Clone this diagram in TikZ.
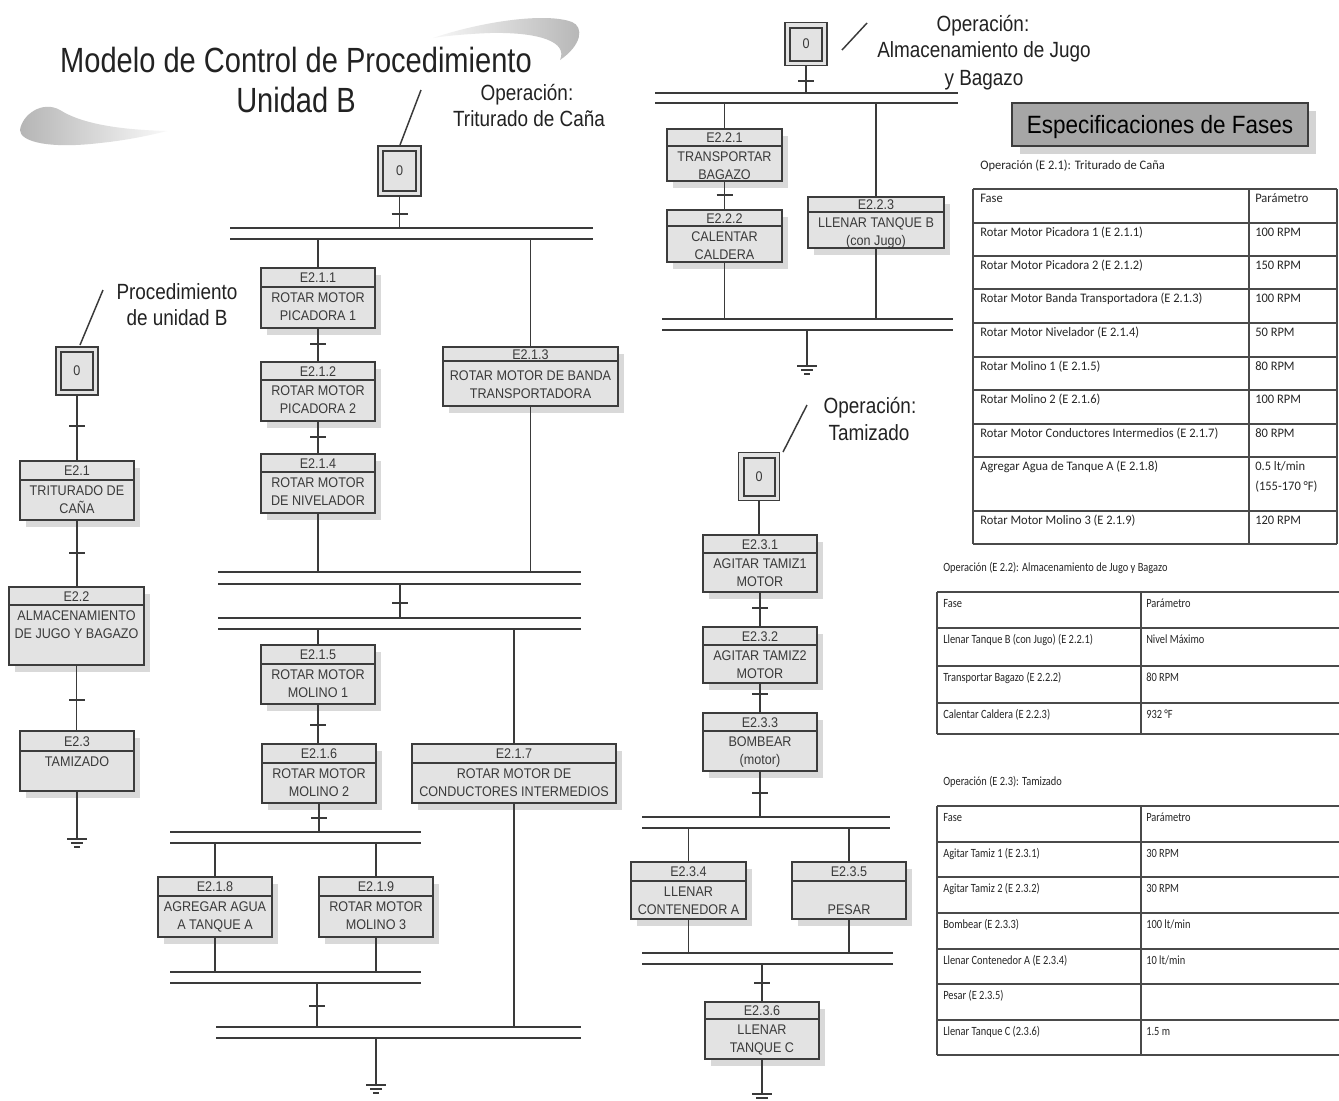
\documentclass[tikz,border=0pt]{standalone}
\usepackage{fontspec}
\setmainfont{Liberation Sans}
\newfontfamily\titlefont{Liberation Sans}[FakeStretch=0.83]
\newfontfamily\labfont{Liberation Sans}[FakeStretch=0.86]
\newfontfamily\boxfont{Liberation Sans}[FakeStretch=0.9]
\newfontfamily\tabfont{Carlito}[FakeStretch=0.96]
\newfontfamily\tabfontn{Carlito}[FakeStretch=0.83]

\definecolor{framec}{HTML}{3C3C3C}
\definecolor{boxfill}{HTML}{E3E3E3}
\definecolor{shadowc}{HTML}{D9D9D9}
\definecolor{ink}{HTML}{3A3A3A}
\definecolor{wire}{HTML}{3A3A3A}
\definecolor{labink}{HTML}{222222}
\definecolor{tabc}{HTML}{4A4A4A}
\definecolor{tabink}{HTML}{262626}
\definecolor{specfill}{HTML}{A6A6A6}
\definecolor{specshadow}{HTML}{D4D4D4}

\tikzset{
  stepframe/.style={draw=framec, line width=1.2pt, fill=boxfill, inner sep=0pt, outer sep=0pt},
  frameline/.style={draw=framec, line width=1.2pt},
  boxshadow/.style={fill=shadowc},
  steptext/.style={anchor=base, inner sep=0pt, text=ink, font=\boxfont\fontsize{10.5}{12}\selectfont},
  conn/.style={draw=wire, line width=1.1pt},
  barline/.style={draw=wire, line width=1.5pt},
  tickline/.style={draw=wire, line width=1.2pt},
  gndline/.style={draw=wire, line width=1.1pt},
  initouter/.style={draw=framec, line width=1pt, fill=boxfill, inner sep=0pt, outer sep=0pt},
  initinner/.style={draw=framec, line width=1.5pt, fill=boxfill, inner sep=0pt, outer sep=0pt, text=ink, font=\boxfont\fontsize{10.5}{12}\selectfont},
  lab/.style={anchor=base, inner sep=0pt, text=labink, font=\labfont\fontsize{16.5}{19}\selectfont},
  tabline/.style={draw=tabc, line width=0.85pt},
  tabtxt/.style={anchor=base west, inner sep=0pt, text=tabink, font=\tabfont\fontsize{9.75}{12}\selectfont},
  tabtxtn/.style={anchor=base west, inner sep=0pt, text=tabink, font=\tabfontn\fontsize{9.4}{12}\selectfont},
}

% vertical offset of the two body lines of a step box
\newcommand\bshift{0}

% step box: name, left, top, right, bottom, header line y, id, line 1, line 2
\newcommand\stepbox[9]{%
  \fill[boxshadow] ({#2+6},{#3+7}) rectangle ({#4+6},{#5+7});
  \node[stepframe, minimum width={(#4-#2)*0.75pt}, minimum height={(#5-#3)*0.75pt}]
    (#1) at ({(#2+#4)/2},{(#3+#5)/2}) {};
  \coordinate (#1-h) at (#2,#6);
  \draw[frameline] (#1-h) -- (#1-h -| #1.east);
  \node[steptext] (#1-id) at ({(#2+#4)/2},{(#3+#6)/2+5}) {#7};
  \node[steptext] (#1-a) at ({(#2+#4)/2},{#6+15+\bshift}) {#8};
  \node[steptext] (#1-b) at ({(#2+#4)/2},{#6+33+\bshift}) {#9};
}

% initial step: name, centre x, centre y, width, height
\newcommand\initstep[5]{%
  \node[initouter, minimum width={#4*0.75pt}, minimum height={#5*0.75pt}] (#1) at (#2,#3) {};
  \node[initinner, minimum width={(#4-10)*0.75pt}, minimum height={(#5-10)*0.75pt}] (#1-in) at (#2,#3) {0};
}

% double bar: name, x from, x to, upper y, lower y
\newcommand\dbar[5]{%
  \coordinate (#1-ul) at (#2,#4); \coordinate (#1-ur) at (#3,#4);
  \coordinate (#1-ll) at (#2,#5); \coordinate (#1-lr) at (#3,#5);
  \draw[barline] (#1-ul) -- (#1-ur);
  \draw[barline] (#1-ll) -- (#1-lr);
}

% transition mark
\newcommand\tmark[2]{\draw[tickline] ({#1-8},#2) -- ({#1+8},#2);}

% end symbol
\newcommand\gnd[2]{%
  \draw[gndline] ({#1-10},#2) -- ({#1+10},#2)
                 ({#1-6},{#2+4}) -- ({#1+6},{#2+4})
                 ({#1-3},{#2+8}) -- ({#1+3},{#2+8});
}

\begin{document}
\begin{tikzpicture}[x=0.75pt,y=-0.75pt]
\useasboundingbox (0,0) rectangle (1339,1100);
\fill[white] (0,0) rectangle (1339,1100);

% ---- decorative swooshes around the title
\shade[left color=gray!6, right color=gray!58]
  (433,38) .. controls (480,22) and (545,12) .. (572,22)
  .. controls (584,27) and (582,45) .. (560,60)
  .. controls (568,42) and (540,32) .. (490,33)
  .. controls (465,34) and (445,36) .. (433,38) -- cycle;
\shade[left color=gray!58, right color=gray!5]
  (167,131) .. controls (130,130) and (85,126) .. (60,110)
  .. controls (42,100) and (22,115) .. (20,130)
  .. controls (20,142) and (50,149) .. (100,143)
  .. controls (130,140) and (155,134) .. (167,131) -- cycle;

% ---- title
\node[anchor=base, inner sep=0pt, text=labink, font=\titlefont\fontsize{26.25}{30}\selectfont]
  (title1) at (296,72) {Modelo de Control de Procedimiento};
\node[anchor=base, inner sep=0pt, text=labink, font=\titlefont\fontsize{26.25}{30}\selectfont]
  (title2) at (296,112) {Unidad B};

% ---- labels
\node[lab] (opM1) at (527,100) {Operación:};
\node[lab] (opM2) at (529,126) {Triturado de Caña};
\node[lab] (procL1) at (177,299) {Procedimiento};
\node[lab] (procL2) at (177,325) {de unidad B};
\node[lab] (opR1) at (983,31) {Operación:};
\node[lab] (opR2) at (984,57) {Almacenamiento de Jugo};
\node[lab] (opR3) at (984,85) {y Bagazo};
\node[lab] (opT1) at (870,413) {Operación:};
\node[lab] (opT2) at (869,440) {Tamizado};

\coordinate (slL1) at (80,345);  \coordinate (slL2) at (103,290);
\coordinate (slM1) at (400,145); \coordinate (slM2) at (421,90);
\coordinate (slR1) at (842,50);  \coordinate (slR2) at (867,23);
\coordinate (slT1) at (783,452); \coordinate (slT2) at (807,405);
\draw[conn] (slL1) -- (slL2);
\draw[conn] (slM1) -- (slM2);
\draw[conn] (slR1) -- (slR2);
\draw[conn] (slT1) -- (slT2);

% ---- initial steps
\initstep{i0L}{77}{371}{42}{48}
\initstep{i0M}{399.5}{171}{43}{50}
\initstep{i0R}{806}{44}{42}{43}
\initstep{i0T}{759}{476.5}{41}{48}

% ---- bars
\dbar{A}{230}{593}{228}{239}
\dbar{B}{218}{581}{572}{584}
\dbar{C}{218}{581}{618}{629}
\dbar{D}{170}{421}{832}{843}
\dbar{F}{170}{421}{972}{983}
\dbar{E}{216}{581}{1027}{1038}
\dbar{G}{655}{958}{93}{103}
\dbar{H}{662}{953}{319}{330}
\dbar{I}{642}{890}{817}{828}
\dbar{J}{642}{893}{953}{964}

% ---- unit procedure
\stepbox{s21}{20}{461}{134}{520}{480}{E2.1}{TRITURADO DE}{CAÑA}
\stepbox{s22}{9}{587}{144}{665}{605}{E2.2}{ALMACENAMIENTO}{DE JUGO Y BAGAZO}
\stepbox{s23}{20}{731}{134}{791}{751}{E2.3}{TAMIZADO}{}

% ---- operation E2.1
\stepbox{s211}{261}{268}{375}{328}{287}{E2.1.1}{ROTAR MOTOR}{PICADORA 1}
\stepbox{s212}{261}{362}{375}{421}{380}{E2.1.2}{ROTAR MOTOR}{PICADORA 2}
\stepbox{s214}{261}{454}{375}{513}{472}{E2.1.4}{ROTAR MOTOR}{DE NIVELADOR}
\renewcommand\bshift{4}
\stepbox{s213}{443}{347}{618}{406}{361}{E2.1.3}{ROTAR MOTOR DE BANDA}{TRANSPORTADORA}
\renewcommand\bshift{0}
\stepbox{s215}{261}{645}{375}{704}{664}{E2.1.5}{ROTAR MOTOR}{MOLINO 1}
\stepbox{s216}{262}{744}{376}{803}{763}{E2.1.6}{ROTAR MOTOR}{MOLINO 2}
\stepbox{s217}{412}{744}{616}{803}{763}{E2.1.7}{ROTAR MOTOR DE}{CONDUCTORES INTERMEDIOS}
\stepbox{s218}{158}{877}{272}{937}{896}{E2.1.8}{AGREGAR AGUA}{A TANQUE A}
\stepbox{s219}{319}{877}{433}{937}{896}{E2.1.9}{ROTAR MOTOR}{MOLINO 3}

% ---- operation E2.2
\stepbox{s221}{667}{129}{782}{181}{146}{E2.2.1}{TRANSPORTAR}{BAGAZO}
\stepbox{s222}{667}{210}{782}{262}{226}{E2.2.2}{CALENTAR}{CALDERA}
\stepbox{s223}{808}{197}{944}{248}{212}{E2.2.3}{LLENAR TANQUE B}{(con Jugo)}

% ---- operation E2.3
\stepbox{s231}{703}{535}{817}{592}{553}{E2.3.1}{AGITAR TAMIZ1}{MOTOR}
\stepbox{s232}{703}{627}{817}{683}{645}{E2.3.2}{AGITAR TAMIZ2}{MOTOR}
\stepbox{s233}{703}{713}{817}{771}{731}{E2.3.3}{BOMBEAR}{(motor)}
\stepbox{s234}{631}{862}{746}{919}{881}{E2.3.4}{LLENAR}{CONTENEDOR A}
\stepbox{s235}{792}{862}{906}{919}{881}{E2.3.5}{}{PESAR}
\stepbox{s236}{705}{1002}{819}{1059}{1019}{E2.3.6}{LLENAR}{TANQUE C}

% ---- connectors: unit procedure
\draw[conn] (i0L.south) -- (s21.north);
\draw[conn] (s21.south) -- (s21.south |- s22.north);
\draw[conn] (s22.south) -- (s22.south |- s23.north);
\coordinate (gL) at (77,839);
\draw[conn] (s23.south) -- (gL);
\tmark{77}{426} \tmark{77}{553} \tmark{77}{700}
\gnd{77}{839}

% ---- connectors: operation E2.1
\draw[conn] (i0M.south) -- (i0M.south |- A-ul);
\tmark{399.5}{214}
\draw[conn] (A-ll -| s211.north) -- (s211.north);
\draw[conn] (A-ll -| s213.north) -- (s213.north);
\draw[conn] (s211.south) -- (s212.north);
\tmark{318}{344}
\draw[conn] (s212.south) -- (s214.north);
\tmark{318}{437}
\draw[conn] (s214.south) -- (s214.south |- B-ul);
\draw[conn] (s213.south) -- (s213.south |- B-ul);
\coordinate (BC) at (400,584);
\draw[conn] (BC) -- (BC |- C-ul);
\tmark{400}{603}
\draw[conn] (C-ll -| s215.north) -- (s215.north);
\draw[conn] (C-ll -| s217.north) -- (s217.north);
\draw[conn] (s215.south) -- (s215.south |- s216.north);
\tmark{318}{725}
\draw[conn] (s216.south) -- (s216.south |- D-ul);
\tmark{319}{818}
\draw[conn] (D-ll -| s218.north) -- (s218.north);
\draw[conn] (D-ll -| s219.north) -- (s219.north);
\draw[conn] (s218.south) -- (s218.south |- F-ul);
\draw[conn] (s219.south) -- (s219.south |- F-ul);
\coordinate (FE) at (317,983);
\draw[conn] (FE) -- (FE |- E-ul);
\tmark{317}{1006}
\draw[conn] (s217.south) -- (s217.south |- E-ul);
\coordinate (gM) at (376,1085);
\draw[conn] (E-ll -| gM) -- (gM);
\gnd{376}{1085}

% ---- connectors: operation E2.2
\draw[conn] (i0R.south) -- (i0R.south |- G-ul);
\tmark{806}{81}
\draw[conn] (G-ll -| s221.north) -- (s221.north);
\draw[conn] (s221.south) -- (s222.north);
\tmark{724.5}{195}
\draw[conn] (G-ll -| s223.north) -- (s223.north);
\draw[conn] (s222.south) -- (s222.south |- H-ul);
\draw[conn] (s223.south) -- (s223.south |- H-ul);
\coordinate (gR) at (807,366);
\draw[conn] (H-ll -| gR) -- (gR);
\gnd{807}{366}

% ---- connectors: operation E2.3
\draw[conn] (i0T.south) -- (i0T.south |- s231.north);
\draw[conn] (s231.south) -- (s232.north);
\tmark{760}{608}
\draw[conn] (s232.south) -- (s233.north);
\tmark{760}{694}
\draw[conn] (s233.south) -- (s233.south |- I-ul);
\tmark{760}{793}
\draw[conn] (I-ll -| s234.north) -- (s234.north);
\draw[conn] (I-ll -| s235.north) -- (s235.north);
\draw[conn] (s234.south) -- (s234.south |- J-ul);
\draw[conn] (s235.south) -- (s235.south |- J-ul);
\draw[conn] (J-ll -| s236.north) -- (s236.north);
\tmark{762}{983}
\coordinate (gT) at (762,1094);
\draw[conn] (s236.south) -- (gT);
\gnd{762}{1094}

% ---- phase specifications
\fill[specshadow] (1020,111) rectangle (1316,154);
\node[draw=framec, line width=1.3pt, fill=specfill, inner sep=0pt,
      minimum width={296*0.75pt}, minimum height={43*0.75pt}] (spec) at (1160,124.5) {};
\node[anchor=base, inner sep=0pt, text=black, font=\boxfont\fontsize{18.75}{22}\selectfont]
  (spectxt) at (1160,133.5) {Especificaciones de Fases};

% table E2.1
\node[tabtxt] (cap1) at (980,169) {Operación (E 2.1): Triturado de Caña};
\foreach \yy in {189,223,256,289,323,357,390,424,457,511,544}
  \draw[tabline] (973,\yy) -- (1337,\yy);
\draw[tabline] (973,189) -- (973,544) (1249,189) -- (1249,544) (1337,189) -- (1337,544);
\node[tabtxt] (t1a0) at (980,202) {Fase};
\node[tabtxt] (t1b0) at (1255,202) {Parámetro};
\node[tabtxt] (t1a1) at (980,236) {Rotar Motor Picadora 1 (E 2.1.1)};
\node[tabtxt] (t1b1) at (1255,236) {100 RPM};
\node[tabtxt] (t1a2) at (980,269) {Rotar Motor Picadora 2 (E 2.1.2)};
\node[tabtxt] (t1b2) at (1255,269) {150 RPM};
\node[tabtxt] (t1a3) at (980,302) {Rotar Motor Banda Transportadora (E 2.1.3)};
\node[tabtxt] (t1b3) at (1255,302) {100 RPM};
\node[tabtxt] (t1a4) at (980,336) {Rotar Motor Nivelador (E 2.1.4)};
\node[tabtxt] (t1b4) at (1255,336) {50 RPM};
\node[tabtxt] (t1a5) at (980,370) {Rotar Molino 1 (E 2.1.5)};
\node[tabtxt] (t1b5) at (1255,370) {80 RPM};
\node[tabtxt] (t1a6) at (980,403) {Rotar Molino 2 (E 2.1.6)};
\node[tabtxt] (t1b6) at (1255,403) {100 RPM};
\node[tabtxt] (t1a7) at (980,437) {Rotar Motor Conductores Intermedios (E 2.1.7)};
\node[tabtxt] (t1b7) at (1255,437) {80 RPM};
\node[tabtxt] (t1a8) at (980,470) {Agregar Agua de Tanque A (E 2.1.8)};
\node[tabtxt] (t1b8) at (1255,470) {0.5 lt/min};
\node[tabtxt] (t1c8) at (1255,490) {(155-170 °F)};
\node[tabtxt] (t1a9) at (980,524) {Rotar Motor Molino 3 (E 2.1.9)};
\node[tabtxt] (t1b9) at (1255,524) {120 RPM};

% table E2.2
\node[tabtxtn] (cap2) at (943,571) {Operación (E 2.2): Almacenamiento de Jugo y Bagazo};
\foreach \yy in {592,628,666,703,734}
  \draw[tabline] (937,\yy) -- (1345,\yy);
\draw[tabline] (937,592) -- (937,734) (1141,592) -- (1141,734);
\node[tabtxtn] (t2a0) at (943,607) {Fase};
\node[tabtxtn] (t2b0) at (1146,607) {Parámetro};
\node[tabtxtn] (t2a1) at (943,643) {Llenar Tanque B (con Jugo) (E 2.2.1)};
\node[tabtxtn] (t2b1) at (1146,643) {Nivel Máximo};
\node[tabtxtn] (t2a2) at (943,681) {Transportar Bagazo (E 2.2.2)};
\node[tabtxtn] (t2b2) at (1146,681) {80 RPM};
\node[tabtxtn] (t2a3) at (943,718) {Calentar Caldera (E 2.2.3)};
\node[tabtxtn] (t2b3) at (1146,718) {932 °F};

% table E2.3
\node[tabtxtn] (cap3) at (943,785) {Operación (E 2.3): Tamizado};
\foreach \yy in {806,842,877,913,949,984,1020,1055}
  \draw[tabline] (937,\yy) -- (1345,\yy);
\draw[tabline] (937,806) -- (937,1055) (1141,806) -- (1141,1055);
\node[tabtxtn] (t3a0) at (943,821) {Fase};
\node[tabtxtn] (t3b0) at (1146,821) {Parámetro};
\node[tabtxtn] (t3a1) at (943,857) {Agitar Tamiz 1 (E 2.3.1)};
\node[tabtxtn] (t3b1) at (1146,857) {30 RPM};
\node[tabtxtn] (t3a2) at (943,892) {Agitar Tamiz 2 (E 2.3.2)};
\node[tabtxtn] (t3b2) at (1146,892) {30 RPM};
\node[tabtxtn] (t3a3) at (943,928) {Bombear (E 2.3.3)};
\node[tabtxtn] (t3b3) at (1146,928) {100 lt/min};
\node[tabtxtn] (t3a4) at (943,964) {Llenar Contenedor  A (E 2.3.4)};
\node[tabtxtn] (t3b4) at (1146,964) {10 lt/min};
\node[tabtxtn] (t3a5) at (943,999) {Pesar (E 2.3.5)};
\node[tabtxtn] (t3a6) at (943,1035) {Llenar Tanque C (2.3.6)};
\node[tabtxtn] (t3b6) at (1146,1035) {1.5 m};

\end{tikzpicture}
\end{document}
